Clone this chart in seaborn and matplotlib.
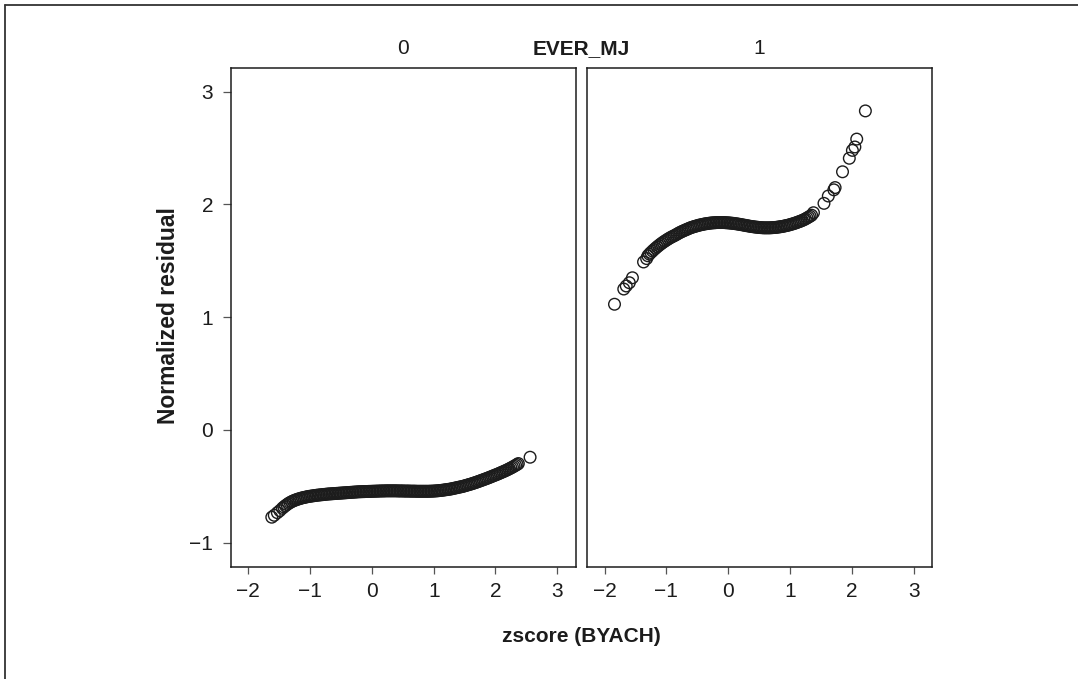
import matplotlib
matplotlib.use("Agg")
import matplotlib.pyplot as plt
from matplotlib.lines import Line2D
import pandas as pd
import seaborn as sns

# Normalized residuals against standardized achievement score, by EVER_MJ group.
# EVER_MJ = 0
zscore_mj0 = [
    -1.620, -1.580, -1.530, -1.490,
    -1.450, -1.425, -1.400, -1.375, -1.350, -1.325, -1.300, -1.275, -1.250, -1.225,
    -1.200, -1.175, -1.150, -1.125, -1.100, -1.075, -1.050, -1.025, -1.000, -0.975,
    -0.950, -0.925, -0.900, -0.875, -0.850, -0.825, -0.800, -0.775, -0.750, -0.725,
    -0.700, -0.675, -0.650, -0.625, -0.600, -0.575, -0.550, -0.525, -0.500, -0.475,
    -0.450, -0.425, -0.400, -0.375, -0.350, -0.325, -0.300, -0.275, -0.250, -0.225,
    -0.200, -0.175, -0.150, -0.125, -0.100, -0.075, -0.050, -0.025, 0.000, 0.025,
    0.050, 0.075, 0.100, 0.125, 0.150, 0.175, 0.200, 0.225, 0.250, 0.275,
    0.300, 0.325, 0.350, 0.375, 0.400, 0.425, 0.450, 0.475, 0.500, 0.525,
    0.550, 0.575, 0.600, 0.625, 0.650, 0.675, 0.700, 0.725, 0.750, 0.775,
    0.800, 0.825, 0.850, 0.875, 0.900, 0.925, 0.950, 0.975, 1.000, 1.025,
    1.050, 1.075, 1.100, 1.125, 1.150, 1.175, 1.200, 1.225, 1.250, 1.275,
    1.300, 1.325, 1.350, 1.375, 1.400, 1.425, 1.450, 1.475, 1.500, 1.525,
    1.550, 1.575, 1.600, 1.625, 1.650, 1.675, 1.700, 1.725, 1.750, 1.775,
    1.800, 1.825, 1.850, 1.875, 1.900, 1.925, 1.950, 1.975, 2.000, 2.025,
    2.050, 2.075, 2.100, 2.125, 2.150, 2.175, 2.200, 2.225, 2.250, 2.275,
    2.300, 2.325, 2.350,
    2.370, 2.560,
]
resid_mj0 = [
    -0.774, -0.757, -0.734, -0.716,
    -0.695, -0.683, -0.672, -0.662, -0.652, -0.644, -0.636, -0.630, -0.624, -0.619,
    -0.614, -0.610, -0.606, -0.602, -0.599, -0.596, -0.593, -0.590, -0.588, -0.586,
    -0.584, -0.582, -0.580, -0.578, -0.577, -0.575, -0.574, -0.572, -0.571, -0.569,
    -0.568, -0.567, -0.566, -0.565, -0.564, -0.563, -0.562, -0.561, -0.560, -0.559,
    -0.558, -0.557, -0.556, -0.555, -0.554, -0.553, -0.552, -0.551, -0.550, -0.549,
    -0.548, -0.548, -0.547, -0.547, -0.546, -0.546, -0.545, -0.545, -0.544, -0.544,
    -0.543, -0.543, -0.542, -0.542, -0.541, -0.541, -0.541, -0.540, -0.540, -0.540,
    -0.540, -0.540, -0.540, -0.540, -0.540, -0.541, -0.541, -0.541, -0.541, -0.542,
    -0.542, -0.542, -0.542, -0.543, -0.543, -0.543, -0.543, -0.544, -0.544, -0.544,
    -0.544, -0.544, -0.544, -0.544, -0.544, -0.544, -0.543, -0.543, -0.542, -0.541,
    -0.540, -0.539, -0.537, -0.536, -0.534, -0.532, -0.530, -0.528, -0.526, -0.524,
    -0.521, -0.518, -0.515, -0.512, -0.509, -0.506, -0.503, -0.500, -0.496, -0.492,
    -0.488, -0.484, -0.480, -0.476, -0.471, -0.467, -0.462, -0.457, -0.452, -0.447,
    -0.442, -0.437, -0.432, -0.427, -0.421, -0.416, -0.410, -0.405, -0.399, -0.394,
    -0.388, -0.382, -0.376, -0.370, -0.364, -0.358, -0.351, -0.344, -0.337, -0.330,
    -0.322, -0.314, -0.306,
    -0.298, -0.242,
]

# EVER_MJ = 1
zscore_mj1 = [
    -1.840, -1.690, -1.650, -1.600, -1.550, -1.370, -1.320,
    -1.300, -1.275, -1.250, -1.225, -1.200, -1.175, -1.150, -1.125, -1.100, -1.075,
    -1.050, -1.025, -1.000, -0.975, -0.950, -0.925, -0.900, -0.875, -0.850, -0.825,
    -0.800, -0.775, -0.750, -0.725, -0.700, -0.675, -0.650, -0.625, -0.600, -0.575,
    -0.550, -0.525, -0.500, -0.475, -0.450, -0.425, -0.400, -0.375, -0.350, -0.325,
    -0.300, -0.275, -0.250, -0.225, -0.200, -0.175, -0.150, -0.125, -0.100, -0.075,
    -0.050, -0.025, 0.000, 0.025, 0.050, 0.075, 0.100, 0.125, 0.150, 0.175,
    0.200, 0.225, 0.250, 0.275, 0.300, 0.325, 0.350, 0.375, 0.400, 0.425,
    0.450, 0.475, 0.500, 0.525, 0.550, 0.575, 0.600, 0.625, 0.650, 0.675,
    0.700, 0.725, 0.750, 0.775, 0.800, 0.825, 0.850, 0.875, 0.900, 0.925,
    0.950, 0.975, 1.000, 1.025, 1.050, 1.075, 1.100, 1.125, 1.150, 1.175,
    1.200, 1.225, 1.250, 1.275, 1.300, 1.325, 1.350,
    1.380, 1.550, 1.620, 1.710, 1.730, 1.850, 1.960, 2.010, 2.050, 2.080, 2.220,
]
resid_mj1 = [
    1.115, 1.250, 1.277, 1.306, 1.350, 1.490, 1.520,
    1.545, 1.560, 1.574, 1.587, 1.600, 1.612, 1.624, 1.635, 1.646, 1.656,
    1.666, 1.675, 1.684, 1.693, 1.701, 1.709, 1.716, 1.723, 1.730, 1.738,
    1.746, 1.753, 1.760, 1.766, 1.772, 1.778, 1.784, 1.790, 1.795, 1.800,
    1.804, 1.808, 1.812, 1.816, 1.819, 1.822, 1.825, 1.828, 1.830, 1.832,
    1.834, 1.836, 1.837, 1.838, 1.839, 1.840, 1.840, 1.840, 1.840, 1.840,
    1.839, 1.838, 1.837, 1.836, 1.834, 1.833, 1.831, 1.829, 1.827, 1.825,
    1.822, 1.820, 1.817, 1.815, 1.812, 1.810, 1.807, 1.805, 1.803, 1.801,
    1.799, 1.798, 1.796, 1.795, 1.794, 1.793, 1.793, 1.793, 1.793, 1.793,
    1.794, 1.795, 1.796, 1.797, 1.799, 1.801, 1.803, 1.805, 1.808, 1.811,
    1.814, 1.817, 1.821, 1.825, 1.829, 1.833, 1.838, 1.843, 1.848, 1.853,
    1.859, 1.865, 1.872, 1.880, 1.888, 1.896, 1.905,
    1.927, 2.010, 2.075, 2.130, 2.150, 2.290, 2.410, 2.480, 2.510, 2.580, 2.830,
]

group_levels = [0, 1]
x_ticks = [-2, -1, 0, 1, 2, 3]
y_ticks = [-1, 0, 1, 2, 3]

df = pd.concat([
    pd.DataFrame({"zscore": zscore_mj0, "residual": resid_mj0, "EVER_MJ": 0}),
    pd.DataFrame({"zscore": zscore_mj1, "residual": resid_mj1, "EVER_MJ": 1}),
], ignore_index=True)

sns.set_theme(style="ticks")
plt.rcParams["font.family"] = ["Liberation Sans", "DejaVu Sans"]

W, H = 1078, 679
fig = plt.figure(figsize=(W / 100, H / 100), dpi=100)
fig.patch.set_facecolor("white")


def fx(px):
    return px / W


def fy(py):
    return 1 - py / H


panel_left = [230.7, 587.0]
panel_w = 345.3
top, bottom = 68.3, 566.7
ink = "#1c1c1c"

for i, level in enumerate(group_levels):
    ax = fig.add_axes([fx(panel_left[i]), fy(bottom), panel_w / W, (bottom - top) / H])
    sub = df[df["EVER_MJ"] == level]
    sns.scatterplot(data=sub, x="zscore", y="residual", ax=ax, marker="o", s=70,
                    facecolors="none", edgecolor=ink, linewidth=1.0, legend=False)
    ax.set_xlim(-2.285, 3.303)
    ax.set_ylim(-1.213, 3.208)
    ax.set_xticks(x_ticks)
    ax.set_xlabel("")
    ax.set_ylabel("")
    for sp in ax.spines.values():
        sp.set_visible(True)
        sp.set_color(ink)
        sp.set_linewidth(1.1)
    ax.tick_params(axis="x", direction="out", length=5, width=0.9, color="#555555",
                   labelsize=15, pad=6, labelcolor=ink)
    if i == 0:
        ax.set_yticks(y_ticks)
        ax.tick_params(axis="y", direction="out", length=5.5, width=0.9, color="#555555",
                       labelsize=15, pad=7, labelcolor=ink)
    else:
        ax.set_yticks([])

    # column header for this group
    fig.text(fx(panel_left[i] + panel_w / 2), fy(54.5), str(level), ha="center",
             va="baseline", fontsize=15, color=ink)

fig.text(fx(581.5), fy(54.5), "EVER_MJ", ha="center", va="baseline", fontsize=15,
         fontweight="bold", color=ink)

fig.text(fx(168.5), fy(316), "Normalized residual", rotation=90, ha="center",
         va="center", fontsize=16.5, fontweight="bold", color=ink)
fig.text(fx(581.5), fy(636), "zscore (BYACH)", ha="center", va="center", fontsize=15,
         fontweight="bold", color=ink)

# frame lines along the left and top edges of the figure
frame_kw = dict(transform=fig.transFigure, color="#333333", linewidth=1.3)
fig.add_artist(Line2D([fx(5.3), fx(5.3)], [0, fy(4.7)], **frame_kw))
fig.add_artist(Line2D([fx(5.3), 1], [fy(4.7), fy(4.7)], **frame_kw))

fig.savefig("out.png", dpi=100)
